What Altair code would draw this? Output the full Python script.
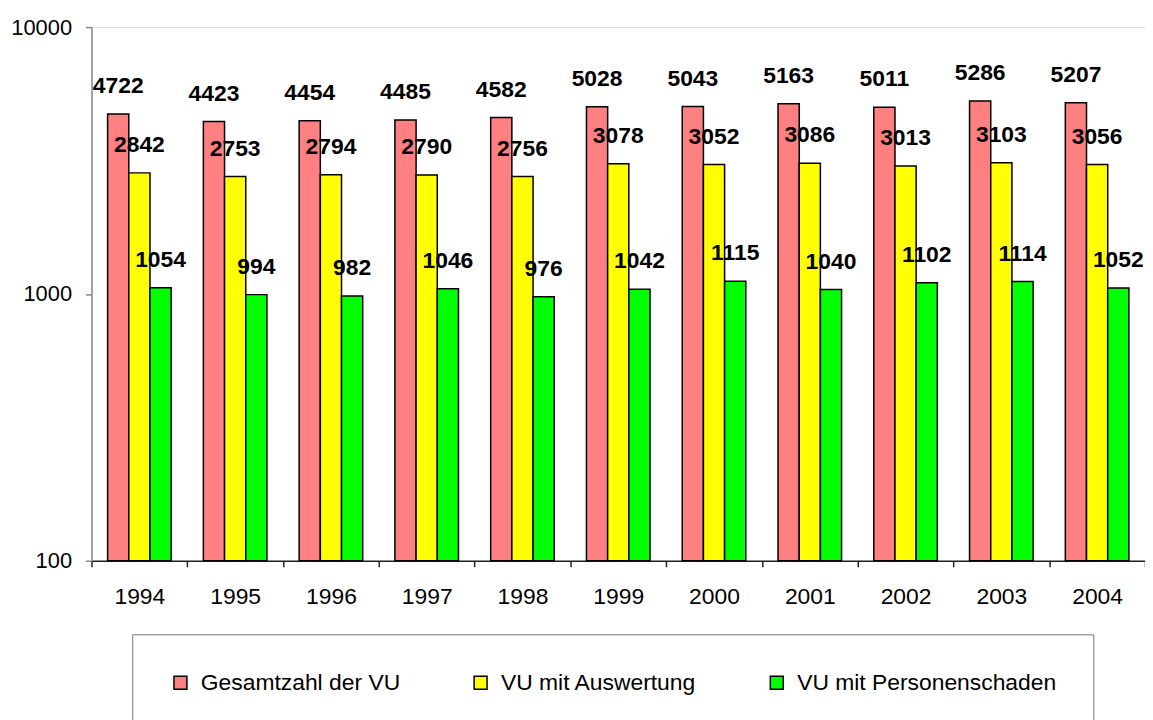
import altair as alt
import pandas as pd

years = ["1994", "1995", "1996", "1997", "1998", "1999", "2000", "2001", "2002", "2003", "2004"]
series = ["Gesamtzahl der VU", "VU mit Auswertung", "VU mit Personenschaden"]
colors = ["#FF8080", "#FFFF00", "#00FF00"]
gesamt = [4722, 4423, 4454, 4485, 4582, 5028, 5043, 5163, 5011, 5286, 5207]
auswertung = [2842, 2753, 2794, 2790, 2756, 3078, 3052, 3086, 3013, 3103, 3056]
personen = [1054, 994, 982, 1046, 976, 1042, 1115, 1040, 1102, 1114, 1052]

rows = []
for name, vals in zip(series, [gesamt, auswertung, personen]):
    for y, v in zip(years, vals):
        rows.append({"year": y, "series": name, "value": v, "base": 100})
df = pd.DataFrame(rows)

FONT = "Liberation Sans"

x_enc = alt.X(
    "year:N",
    sort=years,
    scale=alt.Scale(paddingInner=0, paddingOuter=0),
    axis=alt.Axis(
        title=None, labelAngle=0, tickBand="extent", labelFontSize=23, labelFont=FONT,
        labelColor="black", domainColor="#222222", tickColor="#222222", tickSize=6,
        labelPadding=19, domainWidth=1.5, tickWidth=1.5,
    ),
)
xoff_enc = alt.XOffset("series:N", scale=alt.Scale(domain=series, paddingOuter=0.76, paddingInner=0))
y_enc = alt.Y(
    "value:Q",
    scale=alt.Scale(type="log", domain=[100, 10000]),
    axis=alt.Axis(
        title=None, values=[100, 1000, 10000], format="d", labelFontSize=22, labelFont=FONT,
        labelColor="black", domainColor="#888888", tickColor="#888888", tickSize=6,
        labelPadding=14, grid=False, domainWidth=1.5, tickWidth=1.5,
    ),
)

bars = alt.Chart(df).mark_bar(stroke="black", strokeWidth=1.5).encode(
    x=x_enc,
    xOffset=xoff_enc,
    y=y_enc,
    y2="base:Q",
    color=alt.Color(
        "series:N",
        scale=alt.Scale(domain=series, range=colors),
        legend=alt.Legend(
            title=None, orient="none", legendX=41, legendY=611, direction="horizontal",
            columns=3, symbolType="square", symbolSize=169, symbolStrokeColor="black",
            symbolStrokeWidth=1.5, labelFontSize=23, labelFont=FONT, labelColor="black",
            labelOffset=9, columnPadding=69, padding=37, fillColor="white",
            strokeColor="#777777", labelLimit=400,
        ),
    ),
)

labels = alt.Chart(df).mark_text(
    baseline="alphabetic", dy=-21, fontWeight="bold", fontSize=23, font=FONT, color="black"
).encode(
    x=alt.X("year:N", sort=years),
    xOffset=alt.XOffset("series:N", scale=alt.Scale(domain=series)),
    y=alt.Y("value:Q"),
    text=alt.Text("value:Q", format="d"),
)

chart = alt.layer(bars, labels).properties(
    width=1060,
    height=537,
    padding={"left": 84, "top": 17, "right": 0, "bottom": 158},
    autosize=alt.AutoSizeParams(type="none"),
).configure_view(stroke=None).configure(background="white")

chart.save("out.html", embed_options={"renderer": "svg", "actions": False})
